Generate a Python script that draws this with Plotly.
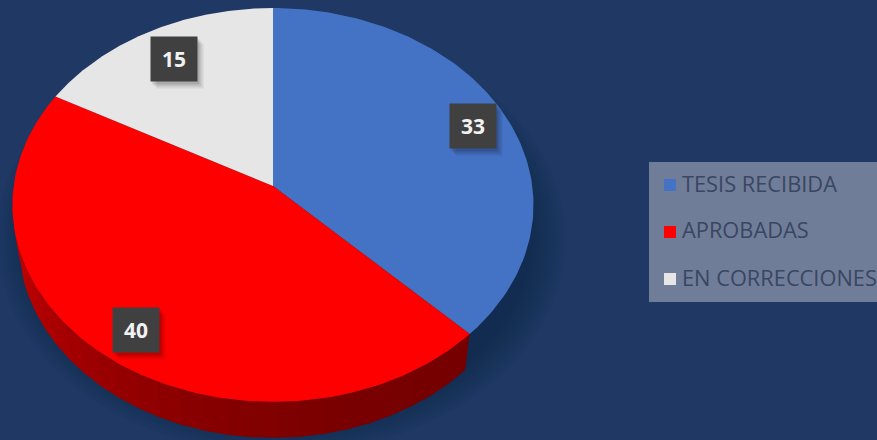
import numpy as np
import plotly.graph_objects as go

# Datos
categorias = ["TESIS RECIBIDA", "APROBADAS", "EN CORRECCIONES"]
valores = [33, 40, 15]
colores = ["#4472C4", "#FF0000", "#E7E6E6"]

# Posicion de las etiquetas y de la leyenda (pixeles)
etiqueta_x = [473, 136, 174]
etiqueta_y = [126, 330, 59]
leyenda_y = [185, 232, 279]
leyenda_texto_y = [186.5, 232.5, 280.5]

FONDO = "#1F3864"
ANCHO, ALTO = 877, 440

# Geometria de la tarta con perspectiva
CX, CY = 273, 186
A, B = 259.3, 195.1
P = 0.0962
GROSOR = 36


def borde(theta_grados, escala=1.0, dx=0, dy=0):
    t = np.radians(theta_grados)
    u, v = np.sin(t), -np.cos(t)
    w = 1 - P * v
    return CX + dx + escala * A * u / w, CY + dy + escala * B * v / w


total = sum(valores)
cortes = np.cumsum([0] + valores) / total * 360

fig = go.Figure()

# Sombra difusa detras de la tarta
todo = np.linspace(0, 360, 181)
for i in range(12):
    x, y = borde(todo, escala=0.96 + i * 0.012, dx=8, dy=32)
    fig.add_trace(go.Scatter(x=x, y=y, mode="lines", fill="toself", line=dict(width=0),
                             fillcolor="rgba(10,20,45,0.035)", showlegend=False, hoverinfo="skip"))

# Lateral de la porcion roja, por tiras para el degradado
inicio, fin = cortes[1], 268
tiras = np.linspace(inicio, fin, 28)
for j in range(len(tiras) - 1):
    arco = np.linspace(tiras[j], tiras[j + 1] + 0.6, 6)
    xs, ys = borde(arco)
    xi, yi = borde(arco[::-1])
    xi = CX + (xi - CX) * 0.977
    yi = yi + GROSOR
    f = j / (len(tiras) - 2)
    rojo = int(118 + 92 * f ** 2)
    fig.add_trace(go.Scatter(x=np.r_[xs, xi], y=np.r_[ys, yi], mode="lines", fill="toself",
                             line=dict(width=0), fillcolor=f"rgb({rojo},0,0)",
                             showlegend=False, hoverinfo="skip"))

# Cara superior
for i, cat in enumerate(categorias):
    arco = np.linspace(cortes[i], cortes[i + 1], 120)
    x, y = borde(arco)
    fig.add_trace(go.Scatter(x=np.r_[CX, x, CX], y=np.r_[CY, y, CY], mode="lines", fill="toself",
                             line=dict(width=0), fillcolor=colores[i], name=cat,
                             showlegend=False, hoverinfo="name"))

# Leyenda dibujada a mano para ajustar el hueco con el texto
fig.add_trace(go.Scatter(
    x=[670] * len(categorias), y=leyenda_y, mode="markers",
    marker=dict(symbol="square", size=12, color=colores),
    showlegend=False, hoverinfo="skip",
))
fig.add_trace(go.Scatter(
    x=[682] * len(categorias), y=leyenda_texto_y, mode="text",
    text=categorias, textposition="middle right",
    textfont=dict(family="Open Sans", size=21.8, color="#3A4662"),
    cliponaxis=False, showlegend=False, hoverinfo="skip",
))

# Etiquetas de datos con su sombra
for i, val in enumerate(valores):
    for d, alfa in [(7, 0.07), (5, 0.09), (3, 0.12)]:
        fig.add_annotation(x=etiqueta_x[i] + d - 1, y=etiqueta_y[i] + d, text=" ", showarrow=False,
                           width=44, height=42, bgcolor=f"rgba(0,0,0,{alfa})")
    fig.add_annotation(x=etiqueta_x[i], y=etiqueta_y[i], text=f"<b>{val}</b>", showarrow=False,
                       width=44, height=42, bgcolor="#404040", align="center", valign="middle",
                       font=dict(family="Open Sans", size=21, color="#F2F2F2"))

fig.update_layout(
    width=ANCHO,
    height=ALTO,
    margin=dict(l=0, r=0, t=0, b=0),
    paper_bgcolor=FONDO,
    plot_bgcolor=FONDO,
    showlegend=False,
    xaxis=dict(range=[0, ANCHO], visible=False, fixedrange=True),
    yaxis=dict(range=[ALTO, 0], visible=False, fixedrange=True),
    shapes=[dict(type="rect", layer="below", x0=649, x1=877, y0=162, y1=302,
                 fillcolor="#707D99", line=dict(width=0))],
)

fig.write_html("out.html", config=dict(displayModeBar=False),
               post_script="document.body.style.margin='0';document.body.style.overflow='hidden';")
